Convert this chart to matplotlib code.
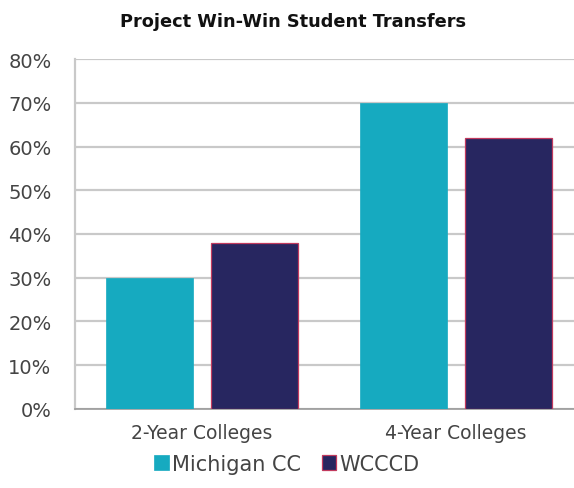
import numpy as np
import matplotlib
matplotlib.use("Agg")
import matplotlib.pyplot as plt
from matplotlib.ticker import FuncFormatter

# === DATA ===
categories = ["2-Year Colleges", "4-Year Colleges"]
series_names = ["Michigan CC", "WCCCD"]
michigan_cc = [30, 70]
wcccd = [38, 62]
y_ticks = [0, 10, 20, 30, 40, 50, 60, 70, 80]

# === STYLE ===
TEAL = "#16AAC0"
NAVY = "#272660"
EDGE_RED = "#C23A5E"
GRID = "#C9C9C9"
TEXT = "#444444"
plt.rcParams['font.family'] = ['DejaVu Sans']

fig = plt.figure(figsize=(5.74, 4.89), dpi=100)
ax = fig.add_axes([0.131, 0.162, 0.869, 0.715])

x = np.arange(len(categories))
w = 0.343
off = 0.207

ax.bar(x - off, michigan_cc, w, color=TEAL, edgecolor=TEAL, linewidth=0.5,
       label=series_names[0], zorder=3)
ax.bar(x + off, wcccd, w, color=NAVY, edgecolor=EDGE_RED, linewidth=0.9,
       label=series_names[1], zorder=3)

ax.set_ylim(0, 80)
ax.set_xlim(-0.5, 1.465)
ax.set_yticks(y_ticks)
ax.yaxis.set_major_formatter(FuncFormatter(lambda v, p: f"{v:.0f}%"))
ax.set_xticks(x)
ax.set_xticklabels(categories)

ax.grid(axis="y", color=GRID, linewidth=1.6, zorder=0)
ax.set_axisbelow(True)
for s in ["top", "right"]:
    ax.spines[s].set_visible(False)
ax.spines["left"].set_color(GRID)
ax.spines["left"].set_linewidth(1.6)
ax.spines["bottom"].set_color("#9A9A9A")
ax.spines["bottom"].set_linewidth(1.2)
ax.tick_params(axis="both", length=0, colors=TEXT)
ax.tick_params(axis="y", labelsize=14, pad=17)
ax.tick_params(axis="x", labelsize=13.5, pad=10)

fig.text(0.51, 0.955, "Project Win-Win Student Transfers", ha="center", va="center",
         fontsize=12.8, fontweight="bold", color="#111111")

fig.legend(loc="center", bbox_to_anchor=(0.5, 0.05), ncol=2, frameon=False,
           fontsize=15, handlelength=0.7, handleheight=0.7, handletextpad=0.15,
           columnspacing=1.0, labelcolor=TEXT)

fig.savefig("out.png", dpi=100)
